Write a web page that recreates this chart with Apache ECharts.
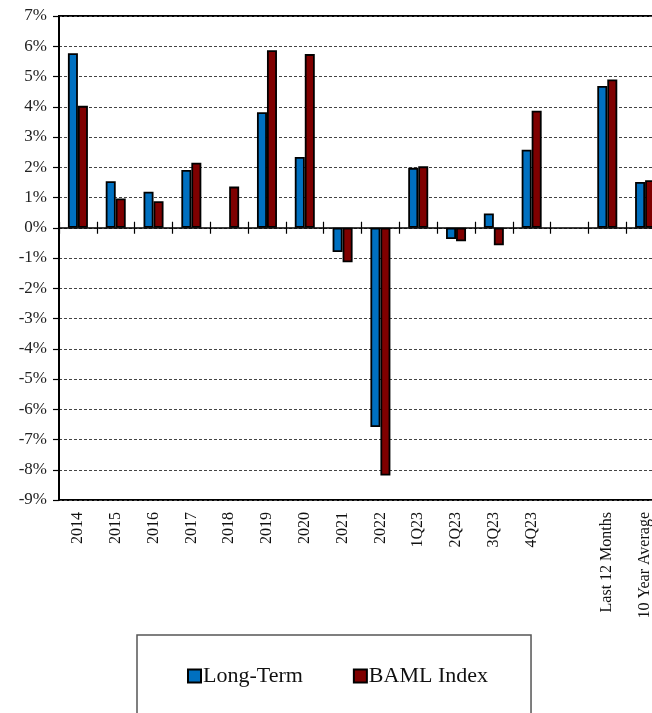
<!DOCTYPE html>
<html>
<head>
<meta charset="utf-8">
<title>Long-Term vs BAML Index</title>
<script src="https://cdn.jsdelivr.net/npm/echarts@6/dist/echarts.min.js"></script>
<style>
  html, body { margin: 0; padding: 0; background: #fff; }
  #chart { width: 652px; height: 713px; }
</style>
</head>
<body>
<div id="chart"></div>
<script>
// Annual, quarterly and summary returns (%)
const categories = ['2014', '2015', '2016', '2017', '2018', '2019', '2020', '2021', '2022',
  '1Q23', '2Q23', '3Q23', '4Q23', '', 'Last 12 Months', '10 Year Average'];
const longTerm = [5.77, 1.54, 1.19, 1.91, null, 3.82, 2.34, -0.80, -6.59,
  1.98, -0.37, 0.47, 2.58, null, 4.69, 1.51];
const bamlIndex = [4.03, 0.97, 0.88, 2.15, 1.36, 5.87, 5.74, -1.14, -8.19,
  2.03, -0.45, -0.58, 3.87, null, 4.90, 1.57];
const yMin = -9, yMax = 7, yStep = 1;

const FONT = '"Liberation Serif", "Times New Roman", serif';
const chart = echarts.init(document.getElementById('chart'), null, { renderer: 'canvas' });

const hidden = { show: false };
const plotBox = { left: 59, top: 16, width: 605, height: 484, outerBoundsMode: 'none', containLabel: false };
const zeroTick = { show: true, inside: true, interval: 0, length: 6, lineStyle: { color: '#000', width: 1.2 } };

chart.setOption({
  backgroundColor: '#fff',
  animation: false,
  textStyle: { fontFamily: FONT },
  grid: [
    Object.assign({ show: true, borderColor: '#000', borderWidth: 2, backgroundColor: 'transparent' }, plotBox),
    // overlay grid that only carries the upward half of the zero-line ticks
    Object.assign({ show: false }, plotBox)
  ],
  legend: {
    left: 137, top: 635,
    padding: [30, 43, 40, 50],
    borderColor: '#555', borderWidth: 1.5,
    itemWidth: 13, itemHeight: 13, itemGap: 50,
    icon: 'rect',
    textStyle: { fontFamily: FONT, fontSize: 22, color: '#111', padding: [0, 0, 0, -3] },
    data: ['Long-Term', 'BAML Index']
  },
  xAxis: [
    {
      // category labels along the bottom edge
      gridIndex: 0, type: 'category', data: categories, position: 'bottom',
      axisLine: { show: false, onZero: false },
      axisTick: hidden,
      axisLabel: {
        rotate: 90, interval: 0, margin: 12,
        fontFamily: FONT, fontSize: 16, color: '#111'
      },
      splitLine: hidden
    },
    {
      // zero line with ticks hanging below it
      gridIndex: 0, type: 'category', data: categories, position: 'top',
      axisLine: { show: true, onZero: true, lineStyle: { color: '#000', width: 1.5 } },
      axisTick: zeroTick,
      axisLabel: { show: false, interval: 0 },
      splitLine: hidden
    },
    {
      // ticks rising above the zero line
      gridIndex: 1, type: 'category', data: categories, position: 'bottom',
      axisLine: { show: false, onZero: true },
      axisTick: zeroTick,
      axisLabel: { show: false, interval: 0 },
      splitLine: hidden
    }
  ],
  yAxis: [
    {
      gridIndex: 0, type: 'value', min: yMin, max: yMax, interval: yStep,
      axisLine: { show: true, lineStyle: { color: '#000', width: 2 } },
      axisTick: { show: true, length: 6, lineStyle: { color: '#000', width: 1.2 } },
      axisLabel: {
        formatter: '{value}%', margin: 12,
        fontFamily: FONT, fontSize: 17, color: '#222'
      },
      splitLine: { show: true, lineStyle: { color: '#444', width: 1, type: [3, 2] } }
    },
    {
      gridIndex: 1, type: 'value', min: yMin, max: yMax, interval: yStep,
      axisLine: hidden, axisTick: hidden, axisLabel: hidden, splitLine: hidden
    }
  ],
  series: [
    {
      name: 'Long-Term', type: 'bar', xAxisIndex: 0, yAxisIndex: 0,
      data: longTerm, barWidth: 10, barGap: '0%',
      itemStyle: { color: '#0070C0', borderColor: '#000', borderWidth: 1.8 }
    },
    {
      name: 'BAML Index', type: 'bar', xAxisIndex: 0, yAxisIndex: 0,
      data: bamlIndex, barWidth: 10, barGap: '0%',
      itemStyle: { color: '#7F0000', borderColor: '#000', borderWidth: 1.8 }
    }
  ]
});
</script>
</body>
</html>
